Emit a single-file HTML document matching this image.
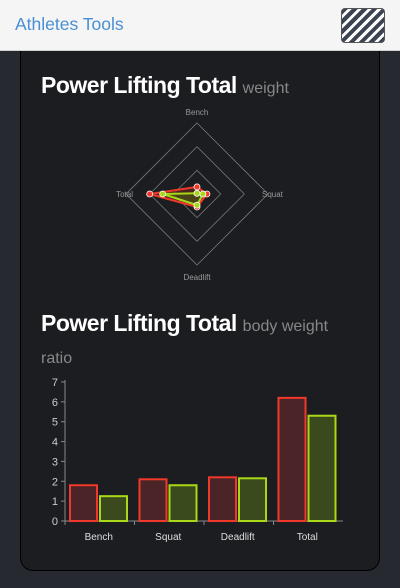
<!DOCTYPE html>
<html><head><meta charset="utf-8"><style>
body{margin:0;width:400px;height:588px;background:#262a30;font-family:"Liberation Sans",sans-serif;overflow:hidden;position:relative}
.hdr{position:absolute;left:0;top:0;width:400px;height:50px;background:#f5f5f5;border-bottom:1px solid #d0d0d0}
.brand{position:absolute;left:15px;top:14px;font-size:17.5px;color:#4a8fd4}
.menu{position:absolute;left:341px;top:8px;width:42px;height:33px;border:1px solid #555;border-radius:4px;background:repeating-linear-gradient(-45deg,#3c4454 0 4px,#fff 4px 7px)}
.card{position:absolute;left:20px;top:51px;width:358px;height:519px;background:#1c1d21;border:1px solid #000;border-top:none;border-radius:0 0 13px 13px}
h2{position:absolute;margin:0;font-size:23px;color:#fff;font-weight:bold;left:41px;width:320px;line-height:28px;letter-spacing:-0.5px}
h2 span{font-size:16px;font-weight:normal;color:#888;letter-spacing:0}
svg{position:absolute;left:0;top:0}
</style></head><body>
<div class="hdr"><div class="brand">Athletes Tools</div><div class="menu"></div></div>
<div class="card"></div>
<h2 style="top:71px">Power Lifting Total <span>weight</span></h2>
<h2 style="top:309px">Power Lifting Total <span>body weight ratio</span></h2>
<svg id="s" width="400" height="588"></svg>
<script>
const axes=["Bench","Squat","Deadlift","Total"];
const radarRed=[30,42,55,200];
const radarGreen=[3,25,47,145];
const radarMax=300;
const barCats=["Bench","Squat","Deadlift","Total"];
const barRed=[1.8,2.1,2.2,6.2];
const barGreen=[1.25,1.8,2.15,5.3];
const yTicks=[0,1,2,3,4,5,6,7];
const s=document.getElementById('s');
const NS="http://www.w3.org/2000/svg";
function mk(t,a,txt){const e=document.createElementNS(NS,t);for(const k in a)e.setAttribute(k,a[k]);if(txt!=null)e.textContent=txt;s.appendChild(e);return e;}
const cx=197,cy=194,R=71;
const ang=[-Math.PI/2,0,Math.PI/2,Math.PI];
function rp(i,v){const r=v/radarMax*R;return [cx+r*Math.cos(ang[i]),cy+r*Math.sin(ang[i])];}
[1/3,2/3,1].forEach(f=>{const pts=ang.map(a=>(cx+R*f*Math.cos(a))+","+(cy+R*f*Math.sin(a))).join(" ");
const g=mk('polygon',{points:pts,fill:'none',stroke:'#777','stroke-width':0.8});

});
const lp=[[197,115,'middle'],[262,197,'start'],[197,280,'middle'],[133,197,'end']];
axes.forEach((a,i)=>{const t=mk('text',{x:lp[i][0],y:lp[i][1],'text-anchor':lp[i][2],'font-size':8,fill:'#999'},a);

});
[[radarRed,'#f0392b','rgba(110,40,30,0.6)'],[radarGreen,'#a8d818','rgba(70,90,20,0.6)']].forEach(([d,c,f])=>{
const pts=d.map((v,i)=>rp(i,v));
const p=mk('polygon',{points:pts.map(p=>p.join(",")).join(" "),fill:f,stroke:c,'stroke-width':2});


pts.forEach(q=>{const d=mk('circle',{cx:q[0],cy:q[1],r:3,fill:c,stroke:'#fff','stroke-width':0.8});

});});
const x0=65,x1=343,y0=521,ppu=19.86;
const Y=v=>y0-v*ppu;
const cw=(x1-x0)/4;
const ax=mk('line',{x1:x0,y1:Y(7)-2,x2:x0,y2:y0,stroke:'#888'});


const xa=mk('line',{x1:x0-4,y1:y0,x2:x1,y2:y0,stroke:'#888'});


yTicks.forEach(v=>{mk('line',{x1:x0-4,y1:Y(v),x2:x0,y2:Y(v),stroke:'#888'});
const t=mk('text',{x:x0-7,y:Y(v)+4,'text-anchor':'end','font-size':11,fill:'#ccc'},v);

});
barCats.forEach((c,i)=>{const bx=x0+i*cw;
mk('line',{x1:bx,y1:y0,x2:bx,y2:y0+4,stroke:'#888'});
const t=mk('text',{x:bx+cw/2-1,y:y0+19,'text-anchor':'middle','font-size':10,fill:'#ddd'},c);


const r=mk('rect',{x:bx+5,y:Y(barRed[i]),width:27,height:barRed[i]*ppu,fill:'#4a2426',stroke:'#f0392b','stroke-width':2});


const g=mk('rect',{x:bx+35,y:Y(barGreen[i]),width:27,height:barGreen[i]*ppu,fill:'#3a4a1c',stroke:'#a8d818','stroke-width':2});

});
</script>
</body></html>
